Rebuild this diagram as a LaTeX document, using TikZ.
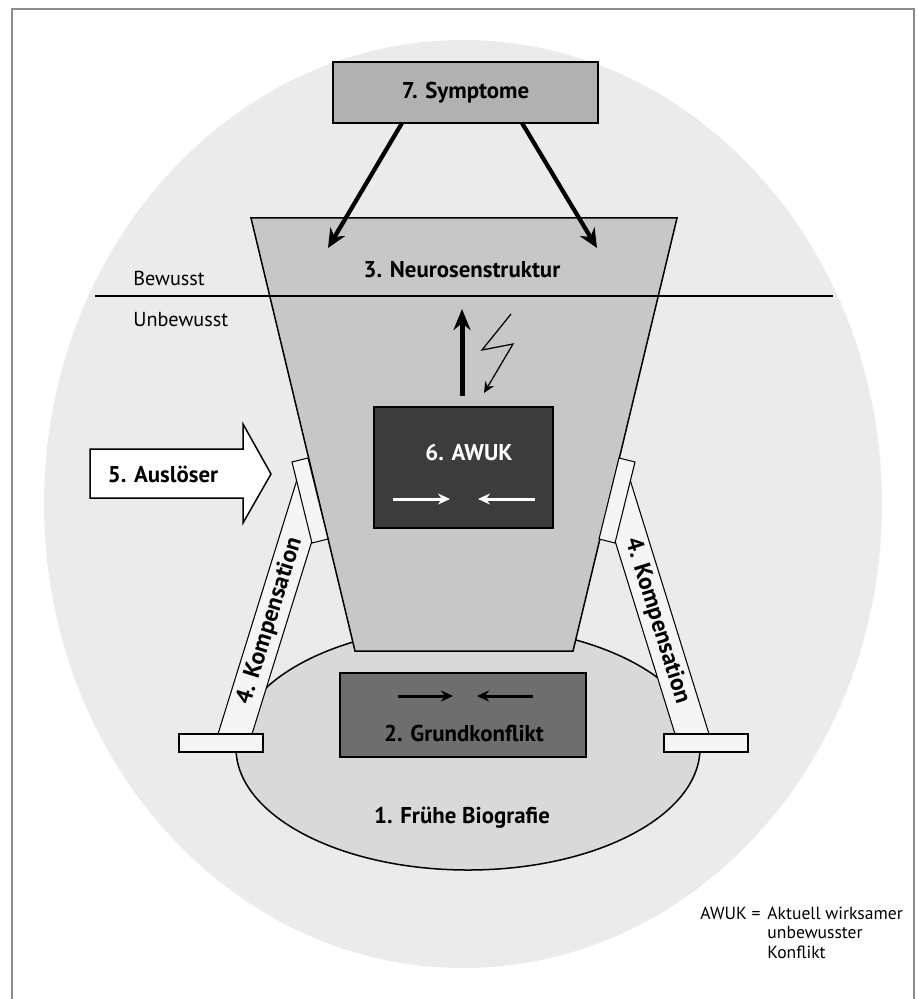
\documentclass[tikz,border=0pt]{standalone}
\usepackage{fontspec}
\setmainfont{PT Sans}
\usetikzlibrary{positioning,arrows.meta}

\definecolor{outerbg}{HTML}{EBEBEB}
\definecolor{biofill}{HTML}{D9D9D9}
\definecolor{funnelfill}{HTML}{C6C7C6}
\definecolor{sympfill}{HTML}{B1B1B1}
\definecolor{awukfill}{HTML}{3C3C3C}
\definecolor{grundfill}{HTML}{6E6E6E}
\definecolor{strutfill}{HTML}{F5F5F5}
\definecolor{framegray}{HTML}{8C8C8C}

\begin{document}
\begin{tikzpicture}[x=0.2mm, y=-0.2mm,
  every node/.style={font=\fontsize{13}{15}\selectfont\bfseries},
  box/.style={draw, rectangle, line width=0.75pt, inner sep=0pt},
  plate/.style={draw, fill=strutfill, line width=0.6pt},
  bigarrow/.style={-{Stealth[length=3.8mm, width=3.4mm]}, line width=0.85mm},
  smallarrow/.style={-{Stealth[length=2.4mm, width=2.2mm]}, line width=0.6mm},
  sidelabel/.style={font=\fontsize{11.5}{13}\selectfont, anchor=base west, inner sep=0pt}
]
\useasboundingbox (0,0) rectangle (916,999);

% frame and background
\draw[framegray, line width=0.4mm] (12,999) -- (12,9) -- (914,9) -- (914,999);
\fill[outerbg] (463,504) ellipse [x radius=83.8mm, y radius=92.8mm];

% early biography
\draw[fill=biofill, line width=0.3mm] (468,748) ellipse [x radius=46.4mm, y radius=24.4mm];

% struts (compensation)
\draw[plate] (218,734) -- (252,734) -- (334,470) -- (300,470) -- cycle;
\draw[plate] (709,734) -- (675,734) -- (593,470) -- (627,470) -- cycle;

% neurosis structure
\draw[fill=funnelfill, line width=0.3mm] (251,218) -- (677,218) -- (573,651) -- (355,651) -- cycle;

% plates
\draw[plate] (292,462) -- (308,458) -- (328,539) -- (312,543) -- cycle;
\draw[plate] (635,462) -- (619,458) -- (599,539) -- (615,543) -- cycle;
\draw[plate] (179,734) rectangle (263,752);
\draw[plate] (664,734) rectangle (748,752);

% conscious / unconscious
\draw[line width=0.3mm] (95,296) -- (833,296);
\node[sidelabel] (bew) at (133,286) {Bewusst};
\node[sidelabel] (unbew) at (133,326) {Unbewusst};

\node (neuro) at (462,270) {3. Neurosenstruktur};
\node (bio) at (462,818) {1. Frühe Biografie};

% symptoms
\node[box, fill=sympfill, minimum width=53mm, minimum height=12.2mm] (symp) at (465.5,92.5) {7. Symptome};
\coordinate (sympL) at (402,123);
\coordinate (sympR) at (522,123);
\coordinate (neuroL) at (328,248);
\coordinate (neuroR) at (597,248);
\draw[bigarrow] (sympL) -- (neuroL);
\draw[bigarrow] (sympR) -- (neuroR);

% AWUK
\node[box, fill=awukfill, minimum width=35.8mm, minimum height=24.2mm] (awuk) at (463.5,467.5) {};
\node[text=white] (awuktxt) at (469,453) {6. AWUK};
\coordinate (aw1) at (393,499);
\coordinate (aw2) at (450,499);
\coordinate (aw3) at (535,499);
\coordinate (aw4) at (478,499);
\draw[smallarrow, white] (aw1) -- (aw2);
\draw[smallarrow, white] (aw3) -- (aw4);

\coordinate (upS) at (462,396);
\coordinate (upE) at (462,309);
\draw[-{Stealth[length=4.2mm, width=3.4mm]}, line width=1mm] (upS) -- (upE);
\coordinate (zig) at (511,314);
\coordinate (zigE) at (484,393);
\draw[-{Stealth[length=2.2mm, width=2mm]}, line width=0.25mm] (zig) -- (482,350) -- (513,344) -- (zigE);

% basic conflict
\node[box, fill=grundfill, minimum width=49.2mm, minimum height=16.8mm] (grund) at (463,715) {};
\node (grundtxt) at (464,733) {2. Grundkonflikt};
\coordinate (gr1) at (398,696);
\coordinate (gr2) at (453,696);
\coordinate (gr3) at (533,696);
\coordinate (gr4) at (477,696);
\draw[smallarrow] (gr1) -- (gr2);
\draw[smallarrow] (gr3) -- (gr4);

% trigger
\draw[fill=white, line width=0.3mm] (90,449) -- (243,449) -- (243,424) -- (271,474) -- (243,523) -- (243,498) -- (90,498) -- cycle;
\node (ausl) at (163,474) {5. Auslöser};

% compensation labels
\node[rotate=72.7, font=\fontsize{13.5}{15}\selectfont\bfseries] (kompL) at (270,621) {4. Kompensation};
\node[rotate=-72.7, font=\fontsize{13.5}{15}\selectfont\bfseries] (kompR) at (657,621) {4. Kompensation};

% legend
\node[font=\fontsize{10}{11.2}\selectfont, anchor=base west, inner sep=0pt] (key) at (700,919)
  {AWUK =\hspace{1.4mm}\begin{tabular}[t]{@{}l@{}}Aktuell wirksamer\\unbewusster\\Konflikt\end{tabular}};
\end{tikzpicture}
\end{document}
